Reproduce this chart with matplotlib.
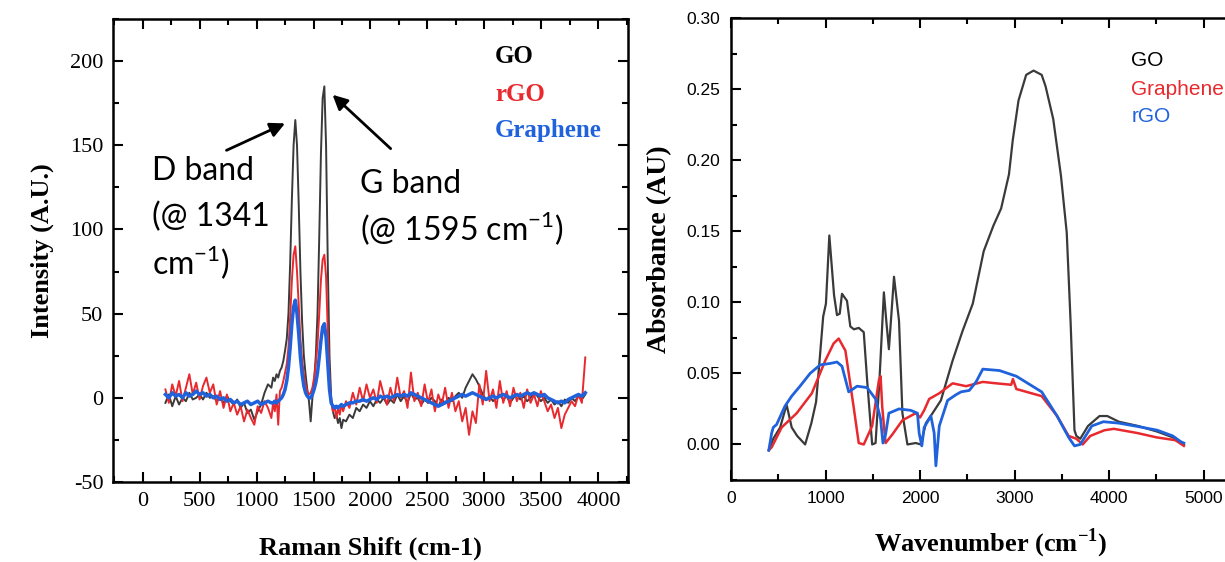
import numpy as np
import matplotlib
matplotlib.use('Agg')
import matplotlib.pyplot as plt
from matplotlib.ticker import MultipleLocator, FormatStrFormatter

plt.rcParams['axes.unicode_minus'] = False

W, H = 1225, 562

# ---------------- Raman data (left panel) ----------------
raman_shift = np.concatenate([np.arange(200, 1131, 30),
                              np.arange(1145, 1761, 15),
                              np.arange(1785, 3886, 30)])

raman_go = [-3, 2, -5, 1, -4, 0, -2, 3, -1, 0, 2, -1, 3, 0, 1, -2, 0, -3, 1, -2,
            -4, -1, -6, -3, -9, -7, -13, -8, -4, 3, 8, 6,
            12, 10, 14, 12, 16, 18, 22, 28, 35, 50, 80, 118, 150, 165, 150, 115, 75, 45, 25, 14,
            5, -2, -14, 0, 10, 25, 50, 95, 145, 178, 185, 150, 80, 25, 0, -8, -12, -10, -15, -12,
            -18, -13,
            -14, -10, -12, -6, -8, -4, -6, -2, -5, -1, -3, 0, -4, -1, -3, 2, -2, 1, -3, 3,
            -1, 0, -4, -1, -3, 0, -2, -5, -1, -3, 0, -2, 1, 3, 0, 6, 10, 14, 11, 7,
            2, -1, 1, -2, 0, 2, -1, 1, -3, 0, 2, -1, 1, -2, 0, 3, 1, -2, 0, -3,
            -1, -4, -2, -5, -1, -3, 0, -2, 1, -1, 2]

raman_rgo = [5, -3, 8, 1, 10, -2, 6, 14, 2, 9, -1, 7, 12, 3, 8, -4, 4, -6, 2, -8,
             -3, -10, -5, -14, -7, -12, -16, -5, -9, -2, -6, -12,
             -3, -8, 2, -16, 4, 6, 10, 15, 20, 30, 48, 70, 85, 90, 75, 55, 35, 22, 14, 8,
             4, 2, 3, 6, 12, 20, 32, 50, 70, 82, 85, 72, 40, 12, -2, -8, -5, -12, -6, -10,
             -4, -8,
             -2, -6, 3, -4, 6, -2, 8, 0, 5, -3, 10, 2, -4, 6, -2, 12, 0, 4, -6, 15,
             -2, 3, -5, 8, -3, 5, -8, 2, -4, 6, -6, 3, -8, -2, -14, -6, -22, -8, -15, 8,
             -4, 16, -2, 5, -6, 10, -3, 4, -5, 6, -2, 3, -6, 5, -3, 2, -5, 4, -2, -8,
             -4, -12, -6, -18, -10, -6, -2, -5, 2, -3, 24]

raman_graphene = [2, 0, 3, 1, 2, 0, 3, 1, 2, 4, 2, 3, 1, 2, 0, 1, -1, 0, -2, -1,
                  -3, -2, -4, -3, -2, -4, -3, -2, -4, -3, -2, -3,
                  -3, -2, -3, -2, -1, 0, 2, 5, 10, 18, 30, 44, 54, 58, 50, 38, 24, 14, 7, 3,
                  1, 0, 0, 2, 5, 9, 15, 24, 34, 42, 44, 36, 20, 5, -3, -5, -6, -5, -6, -5,
                  -4, -5,
                  -4, -3, -3, -2, -2, -1, -2, -1, 0, -1, 1, 0, 1, 0, 1, 2, 1, 2, 1, 3,
                  2, 1, 0, -1, -2, -3, -4, -5, -4, -3, -2, -1, 0, 1, 2, 1, 2, 3, 2, 1,
                  0, -1, 0, 1, 0, 1, 2, 1, 0, 1, 2, 1, 2, 3, 2, 3, 2, 1, 2, 0,
                  -1, -2, -3, -2, -3, -1, 0, 1, 2, 1, 3]

# ---------------- FTIR data (right panel) ----------------
ftir_go_x = [400, 447, 520, 588, 642, 700, 784, 850, 900, 943, 975, 1004, 1040, 1090, 1121,
             1150, 1174, 1227, 1262, 1300, 1351, 1404, 1440, 1493, 1529, 1570, 1617, 1645,
             1670, 1700, 1724, 1777, 1813, 1866, 1954, 2008, 2061, 2132, 2220, 2344, 2450,
             2557, 2673, 2776, 2857, 2940, 2980, 3041, 3122, 3200, 3286, 3327, 3408, 3490,
             3551, 3592, 3633, 3653, 3694, 3776, 3898, 3980, 4102, 4306, 4510, 4673, 4755, 4790]
ftir_go_y = [-0.004, 0.004, 0.012, 0.028, 0.012, 0.006, 0.0, 0.015, 0.030, 0.064, 0.090,
             0.099, 0.147, 0.105, 0.091, 0.092, 0.106, 0.101, 0.083, 0.081, 0.082, 0.079,
             0.045, 0.0, 0.001, 0.045, 0.107, 0.085, 0.067, 0.095, 0.118, 0.087, 0.022, 0.0,
             0.001, 0.0, 0.015, 0.022, 0.031, 0.059, 0.080, 0.099, 0.136, 0.154, 0.166,
             0.190, 0.214, 0.242, 0.260, 0.263, 0.260, 0.252, 0.229, 0.189, 0.149, 0.086,
             0.010, 0.006, 0.004, 0.013, 0.020, 0.020, 0.016, 0.013, 0.009, 0.005, 0.002, 0.0]

ftir_graphene_x = [400, 430, 536, 695, 855, 997, 1085, 1139, 1210, 1298, 1351, 1404, 1493,
                   1564, 1582, 1600, 1635, 1706, 1813, 1954, 2000, 2043, 2096, 2203, 2344,
                   2486, 2663, 2805, 2964, 2982, 3018, 3286, 3449, 3571, 3653, 3720, 3800,
                   3950, 4050, 4300, 4500, 4700, 4790]
ftir_graphene_y = [-0.004, -0.002, 0.012, 0.022, 0.036, 0.059, 0.071, 0.0745, 0.066, 0.026,
                   0.001, 0.0, 0.013, 0.045, 0.048, 0.026, 0.001, 0.007, 0.017, 0.022, 0.019,
                   0.024, 0.032, 0.036, 0.043, 0.041, 0.044, 0.043, 0.042, 0.046, 0.039,
                   0.034, 0.020, 0.006, 0.004, 0.0, 0.006, 0.010, 0.011, 0.008, 0.005, 0.003,
                   -0.001]

ftir_rgo_x = [400, 430, 447, 482, 571, 642, 730, 837, 943, 1050, 1121, 1174, 1245, 1334,
              1440, 1529, 1582, 1607, 1635, 1670, 1777, 1901, 1972, 1990, 2018, 2043, 2114,
              2149, 2167, 2203, 2291, 2380, 2433, 2520, 2592, 2663, 2840, 3018, 3286, 3449,
              3571, 3633, 3694, 3816, 3939, 4102, 4306, 4510, 4673, 4755, 4790]
ftir_rgo_y = [-0.004, 0.008, 0.012, 0.014, 0.027, 0.034, 0.041, 0.050, 0.056, 0.057, 0.058,
              0.055, 0.037, 0.041, 0.040, 0.032, 0.018, 0.001, 0.007, 0.022, 0.025, 0.024,
              0.022, 0.008, -0.001, 0.012, 0.020, 0.008, -0.015, 0.013, 0.031, 0.035, 0.037,
              0.038, 0.044, 0.053, 0.052, 0.048, 0.037, 0.020, 0.005, -0.001, 0.0, 0.013,
              0.016, 0.015, 0.0126, 0.010, 0.006, 0.002, 0.001]

# colours
c_black = '#3a3a3a'
c_red = '#e8292e'
c_blue = '#1f62dc'

serif = 'Liberation Serif'
sans = 'Liberation Sans'
note_font = 'Lato'

fig = plt.figure(figsize=(W / 100, H / 100), dpi=100)

# ---------------- left: Raman ----------------
ax1 = fig.add_axes([113 / W, 1 - 482 / H, (628 - 113) / W, (482 - 19) / H])
ax1.plot(raman_shift, raman_go, color=c_black, lw=1.4)
ax1.plot(raman_shift, raman_rgo, color=c_red, lw=1.4)
ax1.plot(raman_shift, raman_graphene, color=c_blue, lw=2.5)
ax1.set_xlim(-260, 4260)
ax1.set_ylim(-50, 225)
ax1.xaxis.set_minor_locator(MultipleLocator(250))
ax1.yaxis.set_minor_locator(MultipleLocator(25))
ax1.set_yticks([-50, 0, 50, 100, 150, 200])
ax1.set_xticks(range(0, 4001, 500))
for lab in ax1.get_xticklabels() + ax1.get_yticklabels():
    lab.set_fontfamily(serif)
    lab.set_fontsize(16)
ax1.set_ylabel('Intensity (A.U.)', fontfamily=serif, fontweight='bold', fontsize=19, va='center')
ax1.set_xlabel('Raman Shift (cm-1)', fontfamily=serif, fontweight='bold', fontsize=19, va='center')
ax1.yaxis.set_label_coords(-0.138, 0.5)
ax1.xaxis.set_label_coords(0.5, -0.143)

ax1.text(0.742, 0.918, 'GO', transform=ax1.transAxes, color='black', fontfamily=serif,
         fontweight='bold', fontsize=18, va='center')
ax1.text(0.742, 0.838, 'rGO', transform=ax1.transAxes, color=c_red, fontfamily=serif,
         fontweight='bold', fontsize=18, va='center')
ax1.text(0.742, 0.760, 'Graphene', transform=ax1.transAxes, color=c_blue, fontfamily=serif,
         fontweight='bold', fontsize=18, va='center')

# band annotations
ax1.text(80, 135, 'D band', fontfamily=note_font, fontsize=23, va='center')
ax1.text(80, 107.5, '(@ 1341', fontfamily=note_font, fontsize=23, va='center')
ax1.text(80, 80, r'cm$^{\mathregular{-1}}$)', fontfamily=note_font, fontsize=23, va='center')
ax1.text(1910, 127, 'G band', fontfamily=note_font, fontsize=23, va='center')
ax1.text(1910, 100, r'(@ 1595 cm$^{\mathregular{-1}}$)', fontfamily=note_font, fontsize=23,
         va='center')
arrow = dict(arrowstyle='-|>', color='black', lw=2, mutation_scale=22, shrinkA=0, shrinkB=0)
ax1.annotate('', xy=(1250, 163), xytext=(736, 147), arrowprops=arrow)
ax1.annotate('', xy=(1667, 180), xytext=(2177, 148), arrowprops=arrow)

# ---------------- right: FTIR ----------------
ax2 = fig.add_axes([731 / W, 1 - 480 / H, 520 / W, (480 - 18) / H])
ax2.plot(ftir_go_x, ftir_go_y, color=c_black, lw=1.6)
ax2.plot(ftir_graphene_x, ftir_graphene_y, color=c_red, lw=1.8)
ax2.plot(ftir_rgo_x, ftir_rgo_y, color=c_blue, lw=2.0)
ax2.set_xlim(0, 5500)
ax2.set_ylim(-0.025, 0.30)
ax2.xaxis.set_minor_locator(MultipleLocator(500))
ax2.yaxis.set_minor_locator(MultipleLocator(0.025))
ax2.set_xticks(range(0, 5001, 1000))
ax2.set_yticks(np.arange(0, 0.301, 0.05))
ax2.yaxis.set_major_formatter(FormatStrFormatter('%.2f'))
for lab in ax2.get_xticklabels() + ax2.get_yticklabels():
    lab.set_fontfamily(sans)
    lab.set_fontsize(12.5)
ax2.set_ylabel('Absorbance (AU)', fontfamily=serif, fontweight='bold', fontsize=20, va='center')
ax2.set_xlabel(r'Wavenumber (cm$^{\mathregular{-1}}$)', fontfamily=serif, fontweight='bold',
               fontsize=19, va='center')
ax2.yaxis.set_label_coords(-0.138, 0.5)
ax2.xaxis.set_label_coords(0.5, -0.138)

ax2.text(0.77, 0.909, 'GO', transform=ax2.transAxes, color='black', fontfamily=sans,
         fontsize=15, va='center')
ax2.text(0.77, 0.845, 'Graphene', transform=ax2.transAxes, color=c_red, fontfamily=sans,
         fontsize=15, va='center')
ax2.text(0.77, 0.786, 'rGO', transform=ax2.transAxes, color=c_blue, fontfamily=sans,
         fontsize=15, va='center')

for ax in (ax1, ax2):
    ax.tick_params(which='both', direction='in', top=True, right=True, width=1.5)
    ax.tick_params(which='major', length=7)
    ax.tick_params(which='minor', length=4)
    for sp in ax.spines.values():
        sp.set_linewidth(1.8)
ax1.tick_params(which='major', pad=7)
ax2.tick_params(which='major', pad=8)

fig.savefig('out.png', dpi=100)
